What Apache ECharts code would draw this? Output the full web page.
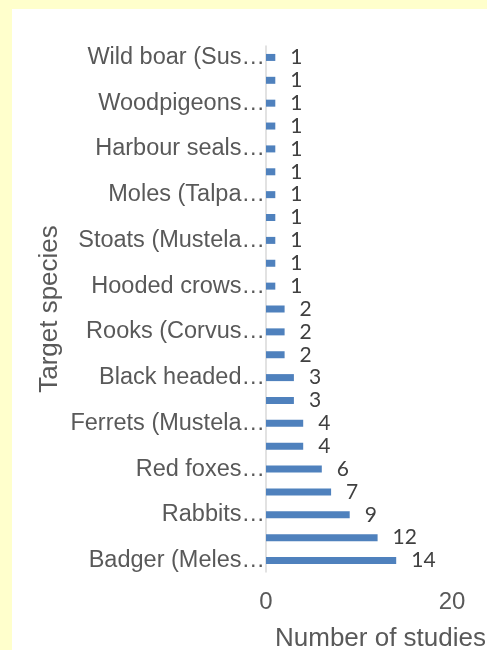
<!DOCTYPE html>
<html>
<head>
<meta charset="utf-8">
<script src="https://cdn.jsdelivr.net/npm/echarts@6/dist/echarts.min.js"></script>
<style>
  html, body { margin: 0; padding: 0; background: #FFFFCC; }
  #panel { position: absolute; left: 12px; top: 9px; right: 0; bottom: 0; background: #FFFFFF; }
  #chart { position: absolute; left: 0; top: 0; width: 487px; height: 650px; }
</style>
</head>
<body>
<div id="panel"></div>
<div id="chart"></div>
<script>
// Species labels, bottom to top; only every second row carries a visible name
const categories = [
  'Badger (Meles…', '',
  'Rabbits…', '',
  'Red foxes…', '',
  'Ferrets (Mustela…', '',
  'Black headed…', '',
  'Rooks (Corvus…', '',
  'Hooded crows…', '',
  'Stoats (Mustela…', '',
  'Moles (Talpa…', '',
  'Harbour seals…', '',
  'Woodpigeons…', '',
  'Wild boar (Sus…'
];

// Number of studies per species, same order as the categories
const studies = [14, 12, 9, 7, 6, 4, 4, 3, 3, 2, 2, 2, 1, 1, 1, 1, 1, 1, 1, 1, 1, 1, 1];

// Value axis ticks
const xTicks = [0, 20];

const chart = echarts.init(document.getElementById('chart'), null, { renderer: 'canvas' });

chart.setOption({
  backgroundColor: 'transparent',
  animation: false,
  grid: { left: 266, right: 35, top: 46, bottom: 78, containLabel: false, outerBoundsMode: 'none' },
  xAxis: {
    type: 'value',
    min: xTicks[0],
    max: xTicks[xTicks.length - 1],
    interval: xTicks[1] - xTicks[0],
    axisLine: { show: false },
    axisTick: { show: false },
    splitLine: { show: false },
    axisLabel: {
      fontFamily: 'Liberation Sans, Arial, sans-serif',
      fontSize: 24,
      color: '#595959',
      margin: 18
    },
    name: 'Number of studies',
    nameLocation: 'middle',
    nameGap: 54,
    nameTextStyle: {
      fontFamily: 'Liberation Sans, Arial, sans-serif',
      fontSize: 26,
      color: '#595959',
      padding: [0, 0, 0, 43]
    }
  },
  yAxis: {
    type: 'category',
    data: categories,
    axisLine: { show: true, lineStyle: { color: '#D9D9D9', width: 1.5 } },
    axisTick: { show: false },
    axisLabel: {
      interval: 0,
      fontFamily: 'Liberation Sans, Arial, sans-serif',
      fontSize: 23.5,
      color: '#595959',
      margin: 1
    },
    name: 'Target species',
    nameLocation: 'middle',
    nameGap: 203,
    nameTextStyle: {
      fontFamily: 'Liberation Sans, Arial, sans-serif',
      fontSize: 26,
      color: '#595959'
    }
  },
  series: [{
    type: 'bar',
    data: studies,
    barWidth: 7,
    itemStyle: { color: '#4F81BD' },
    label: {
      show: true,
      position: 'right',
      distance: 15,
      fontFamily: 'Lato, Carlito, sans-serif',
      fontSize: 21,
      color: '#404040'
    }
  }]
});
</script>
</body>
</html>
